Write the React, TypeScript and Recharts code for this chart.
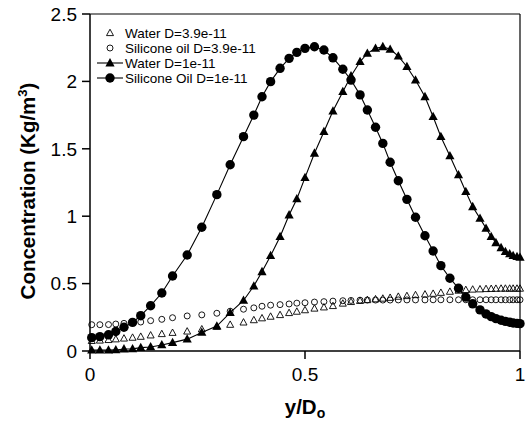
import React from 'react';
import {
  ScatterChart,
  Scatter,
  XAxis,
  YAxis,
  ReferenceLine,
  Legend,
} from 'recharts';

// Concentration profiles across the channel, y/Do from wall to wall.
// All four runs share the same (non-uniform) mesh positions.

const FONT = "'Liberation Sans', Arial, Helvetica, sans-serif";

const meshX = [
  0.004, 0.023, 0.043, 0.06, 0.079, 0.099, 0.118, 0.141, 0.167, 0.192,
  0.226, 0.26, 0.295, 0.326, 0.357, 0.381, 0.4, 0.42, 0.442, 0.463,
  0.481, 0.5, 0.522, 0.544, 0.565, 0.588, 0.607, 0.628, 0.645, 0.664,
  0.681, 0.698, 0.717, 0.737, 0.757, 0.779, 0.798, 0.816, 0.837, 0.857,
  0.874, 0.89, 0.907, 0.921, 0.933, 0.944, 0.956, 0.966, 0.976, 0.984,
  0.993, 1.0,
];

const waterSlow = [
  0.075, 0.078, 0.082, 0.087, 0.093, 0.099, 0.106, 0.116, 0.126, 0.135,
  0.145, 0.161, 0.18, 0.195, 0.212, 0.229, 0.243, 0.255, 0.267, 0.282,
  0.292, 0.303, 0.315, 0.324, 0.334, 0.352, 0.364, 0.372, 0.378, 0.384,
  0.389, 0.395, 0.403, 0.408, 0.415, 0.42, 0.425, 0.432, 0.44, 0.448,
  0.453, 0.456, 0.458, 0.46, 0.461, 0.462, 0.463, 0.463, 0.463, 0.463,
  0.463, 0.463,
];

const oilSlow = [
  0.195, 0.195, 0.196, 0.2, 0.205, 0.21, 0.215, 0.225, 0.235, 0.247,
  0.26, 0.268, 0.28, 0.295, 0.31, 0.32, 0.332, 0.34, 0.344, 0.349,
  0.355, 0.358, 0.363, 0.366, 0.37, 0.373, 0.375, 0.377, 0.378, 0.378,
  0.378, 0.378, 0.379, 0.379, 0.379, 0.379, 0.38, 0.38, 0.38, 0.38,
  0.38, 0.38, 0.38, 0.38, 0.38, 0.38, 0.38, 0.38, 0.38, 0.38,
  0.38, 0.38,
];

const waterFast = [
  0.007, 0.007, 0.007, 0.008, 0.015, 0.016, 0.025, 0.03, 0.045, 0.062,
  0.088, 0.138, 0.185, 0.285, 0.375, 0.482, 0.588, 0.707, 0.848, 1.009,
  1.128, 1.286, 1.467, 1.627, 1.78, 1.924, 2.04, 2.146, 2.208, 2.245,
  2.257, 2.238, 2.188, 2.109, 2.01, 1.886, 1.738, 1.59, 1.447, 1.306,
  1.182, 1.07, 0.984, 0.91, 0.848, 0.803, 0.766, 0.737, 0.72, 0.707,
  0.7, 0.695,
];

const oilFast = [
  0.099, 0.107, 0.12, 0.145, 0.176, 0.212, 0.262, 0.336, 0.43, 0.556,
  0.712, 0.918, 1.16, 1.382, 1.59, 1.75, 1.886, 1.998, 2.097, 2.171,
  2.215, 2.245, 2.257, 2.233, 2.175, 2.09, 2.01, 1.9, 1.788, 1.66,
  1.54, 1.4, 1.263, 1.125, 0.992, 0.855, 0.742, 0.633, 0.54, 0.465,
  0.4, 0.35, 0.305, 0.275, 0.255, 0.24, 0.228, 0.22, 0.213, 0.208,
  0.205, 0.203,
];

const seriesNames = [
  'Water D=3.9e-11',
  'Silicone oil D=3.9e-11',
  'Water D=1e-11',
  'Silicone Oil D=1e-11',
];

const xTicks = [0, 0.5, 1];
const yTicks = [0, 0.5, 1, 1.5, 2, 2.5];

const toPoints = (ys: number[]) => meshX.map((x, i) => ({ x, y: ys[i] }));

// marker glyphs
const triPath = (cx: number, cy: number, w: number, up: number, down: number) =>
  `M${cx},${cy - up} L${cx + w},${cy + down} L${cx - w},${cy + down} Z`;

const OpenTriangle = (p: any) => (
  <path d={triPath(p.cx, p.cy, 3.5, 3.8, 2.6)} fill="none" stroke="#000" strokeWidth={0.9} />
);
const OpenCircle = (p: any) => (
  <circle cx={p.cx} cy={p.cy} r={3} fill="none" stroke="#000" strokeWidth={0.9} />
);
const FilledTriangle = (p: any) => (
  <path d={triPath(p.cx, p.cy, 4.6, 4.9, 3.4)} fill="#000" />
);
const FilledCircle = (p: any) => <circle cx={p.cx} cy={p.cy} r={4.7} fill="#000" />;

const markers = [OpenTriangle, OpenCircle, FilledTriangle, FilledCircle];
const withLine = [false, false, true, true];

const ROW = 15.1;

function LegendBox() {
  return (
    <div style={{ fontFamily: FONT, fontSize: 13.5, color: '#000' }}>
      {seriesNames.map((name, i) => {
        const Marker = markers[i];
        return (
          <div key={name} style={{ display: 'flex', alignItems: 'center', height: ROW }}>
            <svg width={28} height={14} style={{ overflow: 'visible', flex: 'none' }}>
              {withLine[i] && <line x1={1} y1={7} x2={27} y2={7} stroke="#000" strokeWidth={1.1} />}
              <Marker cx={14} cy={7} />
            </svg>
            <span style={{ marginLeft: 1, whiteSpace: 'nowrap', lineHeight: `${ROW}px` }}>{name}</span>
          </div>
        );
      })}
    </div>
  );
}

const YTitle = () => {
  const x = 35;
  const y = 191;
  return (
    <text
      x={x}
      y={y}
      transform={`rotate(-90, ${x}, ${y})`}
      textAnchor="middle"
      fontFamily={FONT}
      fontWeight="bold"
      fontSize={20.5}
      fill="#000"
    >
      Concentration (Kg/m
      <tspan fontSize={13} dy={-8}>3</tspan>
      <tspan dy={8}>)</tspan>
    </text>
  );
};

const XTitle = (props: any) => {
  const vb = props.viewBox || {};
  const x = vb.width ? vb.x + vb.width / 2 : 305;
  return (
    <text x={x} y={414} textAnchor="middle" fontFamily={FONT} fontWeight="bold" fontSize={20.5} fill="#000">
      y/D
      <tspan fontSize={14} dy={4}>o</tspan>
    </text>
  );
};

const axisStroke = { stroke: '#000', strokeWidth: 1.5 };
const tickStyle = { fontSize: 19, fill: '#000', fontFamily: FONT };

export default function App() {
  const data = [waterSlow, oilSlow, waterFast, oilFast].map(toPoints);

  return (
    <div style={{ position: 'absolute', left: 0, top: 0, width: 531, height: 424, background: '#fff' }}>
      <ScatterChart width={531} height={424} margin={{ top: 14, right: 11, bottom: 0, left: 0 }}>
        <XAxis
          type="number"
          dataKey="x"
          domain={[0, 1]}
          ticks={xTicks}
          interval={0}
          height={73}
          tickSize={8}
          tickMargin={9}
          axisLine={axisStroke}
          tickLine={axisStroke}
          tick={tickStyle}
          label={{ content: XTitle }}
        />
        <YAxis
          type="number"
          dataKey="y"
          domain={[0, 2.5]}
          ticks={yTicks}
          interval={0}
          width={90}
          tickSize={8}
          tickMargin={5}
          axisLine={axisStroke}
          tickLine={axisStroke}
          tick={tickStyle}
          label={{ content: YTitle }}
        />
        <ReferenceLine y={2.5} stroke="#000" strokeWidth={1.2} />
        <ReferenceLine x={1} stroke="#000" strokeWidth={1.2} />
        {data.map((pts, i) => (
          <Scatter
            key={seriesNames[i]}
            name={seriesNames[i]}
            data={pts}
            shape={markers[i]}
            line={withLine[i] ? { stroke: '#000', strokeWidth: 1.1 } : false}
            lineType="joint"
            isAnimationActive={false}
          />
        ))}
        <Legend
          layout="vertical"
          align="center"
          verticalAlign="middle"
          wrapperStyle={{ left: 96, top: 25.5, width: 230, height: 62 }}
          content={() => <LegendBox />}
        />
      </ScatterChart>
    </div>
  );
}
